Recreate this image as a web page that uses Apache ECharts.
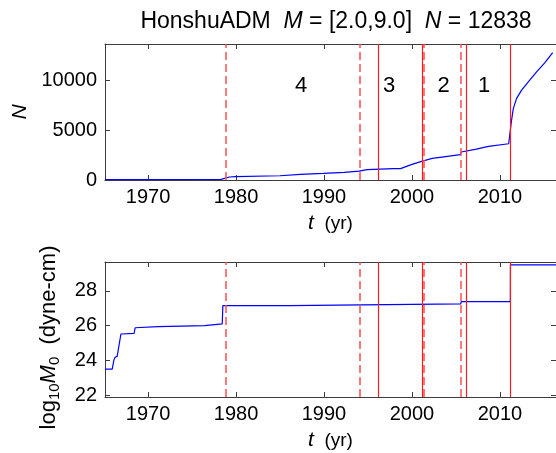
<!DOCTYPE html>
<html>
<head>
<meta charset="utf-8">
<script src="https://cdn.jsdelivr.net/npm/echarts@6/dist/echarts.min.js"></script>
<style>
  html, body { margin: 0; padding: 0; background: #ffffff; }
  #chart { width: 556px; height: 453px; }
</style>
</head>
<body>
<div id="chart"></div>
<script>
// Cumulative number of events N(t)
const countYears = [1965.1, 1978.3, 1978.45, 1979.25, 1979.9, 1985.0, 1987.3, 1989.9, 1992.3, 1994.0, 1994.9,
  1997.9, 1998.7, 2000.0, 2001.1, 2002.3, 2003.4, 2005.5, 2005.6, 2007.2, 2008.7, 2011.0, 2011.17,
  2011.2, 2011.33, 2011.53, 2011.9, 2012.47, 2013.23, 2014.17, 2015.1, 2016.0];
const countValues = [40, 60, 170, 300, 330, 430, 570, 670, 770, 900, 1040,
  1140, 1140, 1580, 1880, 2180, 2310, 2550, 2820, 3090, 3390, 3650, 3700,
  5100, 6040, 7210, 8220, 9050, 9890, 10900, 11800, 12838];

// Cumulative seismic moment, log10 M0 in dyne-cm
const momentYears = [1965.1, 1965.92, 1966.11, 1966.23, 1966.49, 1966.91, 1968.41, 1968.53, 1971.13, 1971.2,
  1976.42, 1976.5, 1978.43, 1978.5, 1986.0, 1986.05, 2005.55, 2005.6, 2011.19, 2011.2, 2016.4];
const momentValues = [23.5, 23.5, 24.02, 24.17, 24.25, 25.52, 25.56, 25.88, 25.94, 26.0,
  26.0, 26.1, 26.1, 27.15, 27.15, 27.25, 27.25, 27.38, 27.38, 29.5, 29.5];

// Window boundaries (dashed) and five-year marks (solid)
const dashedTimes = [1978.87, 1994.04, 2001.36, 2005.6];
const solidTimes = [1996.19, 2001.19, 2006.19, 2011.19];

// Region numbers written inside the upper panel
const regionNames = ['4', '3', '2', '1'];
const regionYears = [1987.4, 1997.4, 2003.6, 2008.2];
const regionLevel = 9450;

// Tick values
const timeTicks = [1970, 1980, 1990, 2000, 2010];
const countTicks = [0, 5000, 10000];
const momentTicks = [22, 24, 26, 28];

const FONT = 'Liberation Sans, Arial, Helvetica, sans-serif';
const AXIS_COLOR = '#3c3c3c';
const T_MIN = 1965.1, T_MAX = 2016.38;
const TICK_FONT = 20;

function pair(a, b) { return a.map((v, i) => [v, b[i]]); }
const plain = v => String(v);

function timeAxis(gridIndex, position, withLabels) {
  return {
    type: 'value', gridIndex, position, min: T_MIN, max: T_MAX,
    axisLine: { show: true, onZero: false, lineStyle: { color: AXIS_COLOR, width: 1 } },
    axisTick: { show: true, inside: true, length: 5, customValues: timeTicks, lineStyle: { color: AXIS_COLOR } },
    axisLabel: { show: withLabels, customValues: timeTicks, formatter: plain, margin: 7,
      color: '#000', fontFamily: FONT, fontSize: TICK_FONT },
    splitLine: { show: false },
    name: withLabels ? '{i|t}{n|  (yr)}' : '',
    nameLocation: 'middle', nameGap: 33,
    nameTextStyle: { rich: {
      i: { fontFamily: FONT, fontSize: 21, fontStyle: 'italic', color: '#000' },
      n: { fontFamily: FONT, fontSize: 19, color: '#000' }
    } }
  };
}

function valueAxis(gridIndex, position, min, max, ticks, withLabels, name, nameGap, rich) {
  return {
    type: 'value', gridIndex, position, min, max,
    axisLine: { show: true, onZero: false, lineStyle: { color: AXIS_COLOR, width: 1 } },
    axisTick: { show: true, inside: true, length: 5, customValues: ticks, lineStyle: { color: AXIS_COLOR } },
    axisLabel: { show: withLabels, customValues: ticks, formatter: plain, margin: 8,
      color: '#000', fontFamily: FONT, fontSize: TICK_FONT },
    splitLine: { show: false },
    name: name || '', nameLocation: 'middle', nameGap: nameGap || 0, nameRotate: 90,
    nameTextStyle: { rich: rich || {} }
  };
}

function verticalLines(xAxisIndex, yAxisIndex) {
  const base = { type: 'line', xAxisIndex, yAxisIndex, data: [], silent: true, z: 3 };
  return [
    Object.assign({}, base, { markLine: { symbol: 'none', silent: true, label: { show: false },
      lineStyle: { color: '#ff5050', width: 1.5, type: [8, 4] },
      data: dashedTimes.map(t => ({ xAxis: t })) } }),
    Object.assign({}, base, { markLine: { symbol: 'none', silent: true, label: { show: false },
      lineStyle: { color: '#ff1a1a', width: 1.2, type: 'solid' },
      data: solidTimes.map(t => ({ xAxis: t })) } })
  ];
}

const chart = echarts.init(document.getElementById('chart'), null, { renderer: 'canvas' });

chart.setOption({
  animation: false,
  backgroundColor: '#ffffff',
  title: {
    text: '{n|HonshuADM  }{i|M}{n| = [2.0,9.0]  }{i|N}{n| = 12838}',
    left: 331, top: 5, textAlign: 'center',
    textStyle: { rich: {
      n: { fontFamily: FONT, fontSize: 23, fontWeight: 'normal', color: '#000' },
      i: { fontFamily: FONT, fontSize: 23, fontWeight: 'normal', fontStyle: 'italic', color: '#000' }
    } }
  },
  grid: [
    { left: 105, right: -2, top: 44, height: 136 },
    { left: 105, right: -2, top: 262, height: 135 }
  ],
  xAxis: [
    timeAxis(0, 'bottom', true),
    timeAxis(0, 'top', false),
    timeAxis(1, 'bottom', true),
    timeAxis(1, 'top', false)
  ],
  yAxis: [
    valueAxis(0, 'left', 0, 13700, countTicks, true, '{i|N}', 74, {
      i: { fontFamily: FONT, fontSize: 21, fontStyle: 'italic', color: '#000' } }),
    valueAxis(0, 'right', 0, 13700, countTicks, false),
    valueAxis(1, 'left', 21.9, 29.66, momentTicks, true,
      '{n|log}{s|10}{i|M}{s|0}{u|  (dyne-cm)}', 43, {
        n: { fontFamily: FONT, fontSize: 22, color: '#000', lineHeight: 24, verticalAlign: 'top' },
        u: { fontFamily: FONT, fontSize: 22, color: '#000', lineHeight: 24, verticalAlign: 'top', padding: [0, 16, 0, 0] },
        i: { fontFamily: FONT, fontSize: 22, fontStyle: 'italic', color: '#000', lineHeight: 24, verticalAlign: 'top' },
        s: { fontFamily: FONT, fontSize: 15, color: '#000', lineHeight: 15, verticalAlign: 'bottom', padding: [12, 0, 0, 0] }
      }),
    valueAxis(1, 'right', 21.9, 29.66, momentTicks, false)
  ],
  series: [
    {
      type: 'line', xAxisIndex: 0, yAxisIndex: 0, data: pair(countYears, countValues),
      showSymbol: false, symbol: 'none', lineStyle: { color: '#0000ff', width: 1.2 }, z: 2
    },
    {
      type: 'custom', xAxisIndex: 0, yAxisIndex: 0, silent: true, z: 4,
      data: regionNames.map((s, i) => [regionYears[i], regionLevel]),
      renderItem: (params, api) => {
        const p = api.coord([api.value(0), api.value(1)]);
        return {
          type: 'text', x: p[0], y: p[1],
          style: { text: regionNames[params.dataIndex], fill: '#000', font: '22px ' + FONT,
            textAlign: 'center', textVerticalAlign: 'middle' }
        };
      }
    },
    {
      type: 'line', xAxisIndex: 2, yAxisIndex: 2, data: pair(momentYears, momentValues),
      showSymbol: false, symbol: 'none', lineStyle: { color: '#0000ff', width: 1.2 }, z: 2
    },
    ...verticalLines(0, 0),
    ...verticalLines(2, 2)
  ]
});
</script>
</body>
</html>
